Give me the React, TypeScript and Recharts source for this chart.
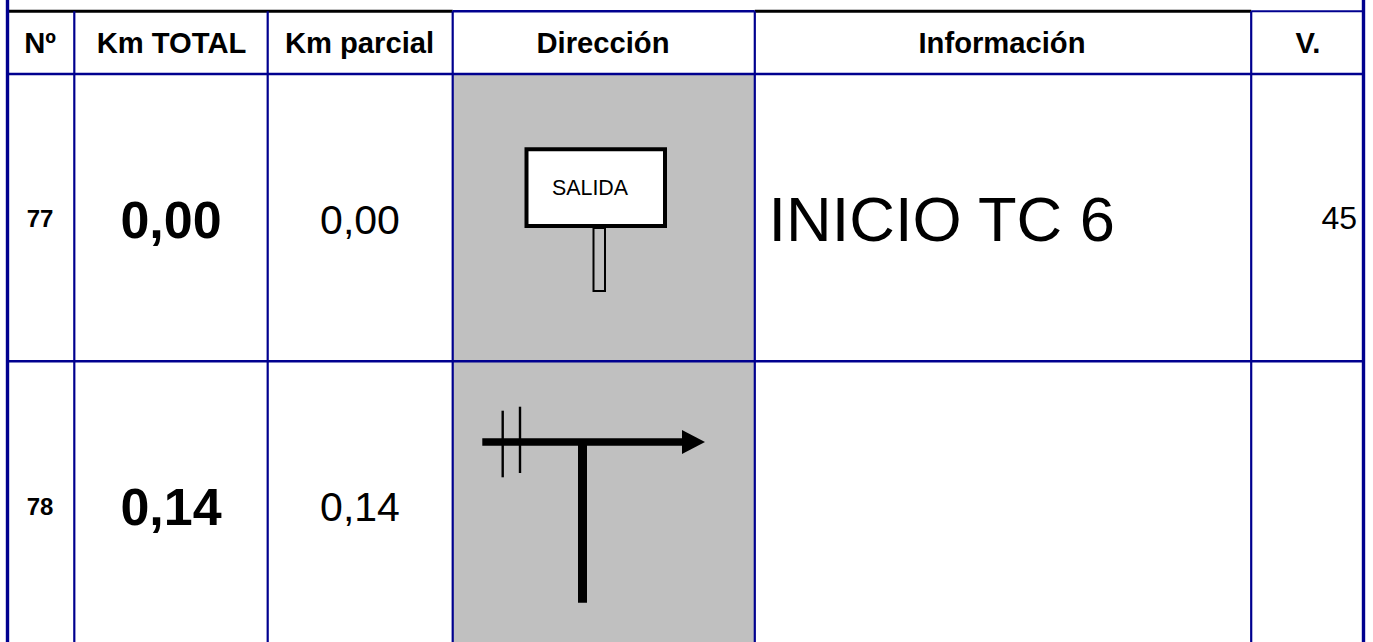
import React from "react";
import { ScatterChart, Scatter, XAxis, YAxis, ReferenceLine, ReferenceArea } from "recharts";

const W = 1373;
const H = 642;

// Table content
const headers = ["Nº", "Km TOTAL", "Km parcial", "Dirección", "Información", "V."];
const rowNumbers = ["77", "78"];
const kmTotal = ["0,00", "0,14"];
const kmParcial = ["0,00", "0,14"];
const information = ["INICIO TC 6", ""];
const speed = ["45", ""];
const signText = "SALIDA";

// Table layout
const columnEdges = [7.5, 74.3, 267.7, 452.7, 754.8, 1251.2, 1363.5];
const headerCentres = [40, 171.5, 359.5, 603, 1002, 1308];
const rowEdges = [11.3, 74, 361.3, 642];
const headerBaseline = 53;
const rowBaselines = { num: [227, 515], total: [238, 525], partial: [234, 521], info: [241, 0], speed: [229, 0] };

const NAVY = "#00008f";
const GREY = "#c0c0c0";
const FONT = "'Liberation Sans', Arial, sans-serif";

type Mark = { x: number; y: number; label: string; size: number; bold?: boolean; anchor?: string };

const textMarks: Mark[] = [
  ...headers.map((label, i) => ({ x: headerCentres[i], y: headerBaseline, label, size: 29.2, bold: true })),
  ...rowNumbers.map((label, i) => ({ x: 40, y: rowBaselines.num[i], label, size: 24, bold: true })),
  ...kmTotal.map((label, i) => ({ x: 171, y: rowBaselines.total[i], label, size: 52, bold: true })),
  ...kmParcial.map((label, i) => ({ x: 360, y: rowBaselines.partial[i], label, size: 41 })),
  ...information.filter(Boolean).map((label, i) => ({ x: 768.5, y: rowBaselines.info[i], label, size: 63.2, anchor: "start" })),
  ...speed.filter(Boolean).map((label, i) => ({ x: 1357, y: rowBaselines.speed[i], label, size: 32, anchor: "end" })),
  { x: 590, y: 195, label: signText, size: 21.4 },
];

const arrowHead = [{ x: 682, y: 442 }];

const TextShape = (p: any) => {
  const m: Mark = p.payload;
  return (
    <text
      x={p.cx}
      y={p.cy}
      textAnchor={m.anchor ?? "middle"}
      fontFamily={FONT}
      fontSize={m.size}
      fontWeight={m.bold ? 700 : 400}
      fill="#000"
    >
      {m.label}
    </text>
  );
};

const ArrowShape = (p: any) => (
  <polygon
    points={`${p.cx},${p.cy - 12} ${p.cx + 23},${p.cy} ${p.cx},${p.cy + 12}`}
    fill="#000"
  />
);

const seg = (x1: number, y1: number, x2: number, y2: number, stroke: string, strokeWidth: number, key: string) => (
  <ReferenceLine
    key={key}
    segment={[{ x: x1, y: y1 }, { x: x2, y: y2 }]}
    stroke={stroke}
    strokeWidth={strokeWidth}
    ifOverflow="visible"
  />
);

export default function App() {
  const [top, header, rowLine, bottom] = rowEdges;
  const [c0, c1, c2, c3, c4, c5, c6] = columnEdges;
  return (
    <div style={{ position: "absolute", left: 0, top: 0, width: W, height: H, background: "#fff", overflow: "hidden" }}>
      <ScatterChart width={W} height={H} margin={{ top: 0, right: 0, bottom: 0, left: 0 }}>
        <XAxis type="number" dataKey="x" domain={[0, W]} hide allowDataOverflow />
        <YAxis type="number" dataKey="y" domain={[0, H]} reversed hide allowDataOverflow />

        {/* grey direction column */}
        <ReferenceArea x1={c3} x2={c4} y1={header} y2={bottom} fill={GREY} fillOpacity={1} stroke="none" ifOverflow="visible" />

        {/* grid */}
        {seg(c0, top, c3, top, "#000", 3, "t1")}
        {seg(c4, top, c5, top, "#000", 3, "t2")}
        {seg(c3, top, c4, top, NAVY, 2.6, "t3")}
        {seg(c5, top, c6, top, NAVY, 2, "t4")}
        {seg(c0, header, c6, header, NAVY, 2.4, "h1")}
        {seg(c0, rowLine, c6, rowLine, NAVY, 2.4, "h2")}
        {seg(c0, 0, c0, bottom, NAVY, 3.4, "v0")}
        {[c1, c2, c3, c4, c5].map((c, i) => seg(c, top, c, bottom, NAVY, 2.2, `v${i + 1}`))}
        {seg(c6, 0, c6, bottom, NAVY, 3.4, "v6")}

        {/* SALIDA sign */}
        <ReferenceArea x1={593.5} x2={605} y1={228} y2={291} fill={GREY} fillOpacity={1} stroke="#000" strokeWidth={2} ifOverflow="visible" />
        <ReferenceArea x1={526.5} x2={665} y1={149.3} y2={226} fill="#fff" fillOpacity={1} stroke="#000" strokeWidth={4} ifOverflow="visible" />

        {/* junction */}
        {seg(482.3, 442, 683, 442, "#000", 7.6, "a1")}
        {seg(582.5, 442, 582.5, 602.7, "#000", 9, "a2")}
        {seg(502.7, 410.7, 502.7, 477.3, "#000", 2.4, "a3")}
        {seg(520, 406.7, 520, 473, "#000", 2.4, "a4")}

        <Scatter data={arrowHead} shape={ArrowShape} isAnimationActive={false} />
        <Scatter data={textMarks} shape={TextShape} isAnimationActive={false} />
      </ScatterChart>
    </div>
  );
}
